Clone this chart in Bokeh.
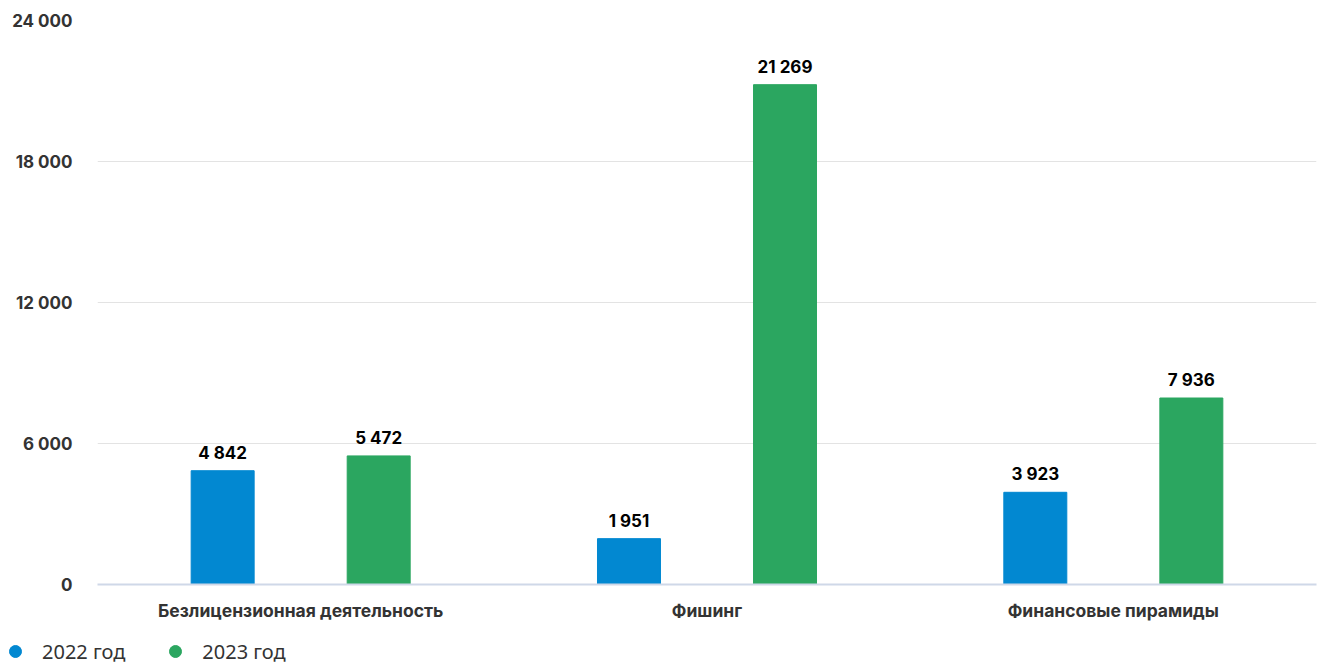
from bokeh.plotting import figure
from bokeh.models import ColumnDataSource, FixedTicker, Legend, LegendItem, Range1d, FactorRange
from bokeh.transform import dodge
from bokeh.core.properties import value
from bokeh.embed import file_html
from bokeh.resources import INLINE

categories = ["Безлицензионная деятельность", "Фишинг", "Финансовые пирамиды"]
values_2022 = [4842, 1951, 3923]
values_2023 = [5472, 21269, 7936]
series_names = ["2022 год", "2023 год"]
y_ticks = [0, 6000, 12000, 18000, 24000]

BLUE = "#0288d1"
GREEN = "#2ba660"

def fmt(v):
    return f"{v:,}".replace(",", " ")

src = ColumnDataSource(dict(
    cat=categories,
    v22=values_2022,
    v23=values_2023,
    l22=[fmt(v) for v in values_2022],
    l23=[fmt(v) for v in values_2023],
))

p = figure(x_range=FactorRange(*categories, range_padding=0), y_range=Range1d(0, 24000),
           width=1319, frame_width=1219, frame_height=564,
           output_backend="svg", toolbar_location=None,
           min_border_left=97, min_border_top=20, min_border_right=3, min_border_bottom=40)
p.outline_line_color = None
p.background_fill_color = "white"

off = 0.192
bw = 0.155
p.vbar(x=dodge("cat", -off, range=p.x_range), top="v22", width=bw, source=src, color=BLUE)
p.vbar(x=dodge("cat", off, range=p.x_range), top="v23", width=bw, source=src, color=GREEN)

for col, lab, o in (("v22", "l22", -off), ("v23", "l23", off)):
    p.text(x=dodge("cat", o, range=p.x_range), y=col, text=lab, source=src,
           text_font=value("Inter"), text_font_style="bold", text_font_size="17px",
           text_color="black", text_align="center", text_baseline="bottom", y_offset=-8)

# y axis
p.yaxis.ticker = FixedTicker(ticks=y_ticks)
p.yaxis.major_label_overrides = {t: fmt(t) for t in y_ticks}
p.yaxis.axis_line_color = None
p.yaxis.major_tick_line_color = None
p.yaxis.minor_tick_line_color = None
p.yaxis.major_tick_out = 0
p.yaxis.minor_tick_out = 0
p.yaxis.major_label_standoff = 25
p.yaxis.major_label_text_font = "Inter"
p.yaxis.major_label_text_font_style = "bold"
p.yaxis.major_label_text_font_size = "17px"
p.yaxis.major_label_text_color = "#333333"
p.ygrid.grid_line_color = "#e3e3e3"
p.ygrid.grid_line_width = 1
p.xgrid.grid_line_color = None

# x axis
p.xaxis.axis_line_color = "#cfd8e8"
p.xaxis.axis_line_width = 2
p.xaxis.major_tick_line_color = None
p.xaxis.minor_tick_line_color = None
p.xaxis.major_tick_out = 0
p.xaxis.minor_tick_out = 0
p.xaxis.major_label_standoff = 15
p.xaxis.major_label_text_font = "Inter"
p.xaxis.major_label_text_font_style = "bold"
p.xaxis.major_label_text_font_size = "17.5px"
p.xaxis.major_label_text_color = "#333333"

# separate strip for the legend (own root, so its frame starts at x=0)
lg = figure(width=1319, height=42, output_backend="svg", toolbar_location=None,
            x_axis_location=None, y_axis_location=None,
            min_border_left=0, min_border_right=0, min_border_top=0, min_border_bottom=0)
lg.outline_line_color = None
lg.xgrid.grid_line_color = None
lg.ygrid.grid_line_color = None
nan = float("nan")
r1 = lg.scatter(x=[nan], y=[nan], marker="circle", size=16, color=BLUE)
r2 = lg.scatter(x=[nan], y=[nan], marker="circle", size=16, color=GREEN)
legend = Legend(items=[LegendItem(label=series_names[0], renderers=[r1]),
                       LegendItem(label=series_names[1], renderers=[r2])],
                orientation="horizontal", location=(0, 0),
                glyph_width=30, glyph_height=30, label_height=30, label_standoff=12, spacing=35,
                padding=0, margin=0, border_line_color=None, background_fill_alpha=0,
                label_text_font="Noto Sans", label_text_font_size="20px",
                label_text_color="#333333")
lg.add_layout(legend, "center")

open("out.html", "w").write(file_html([p, lg], INLINE))
